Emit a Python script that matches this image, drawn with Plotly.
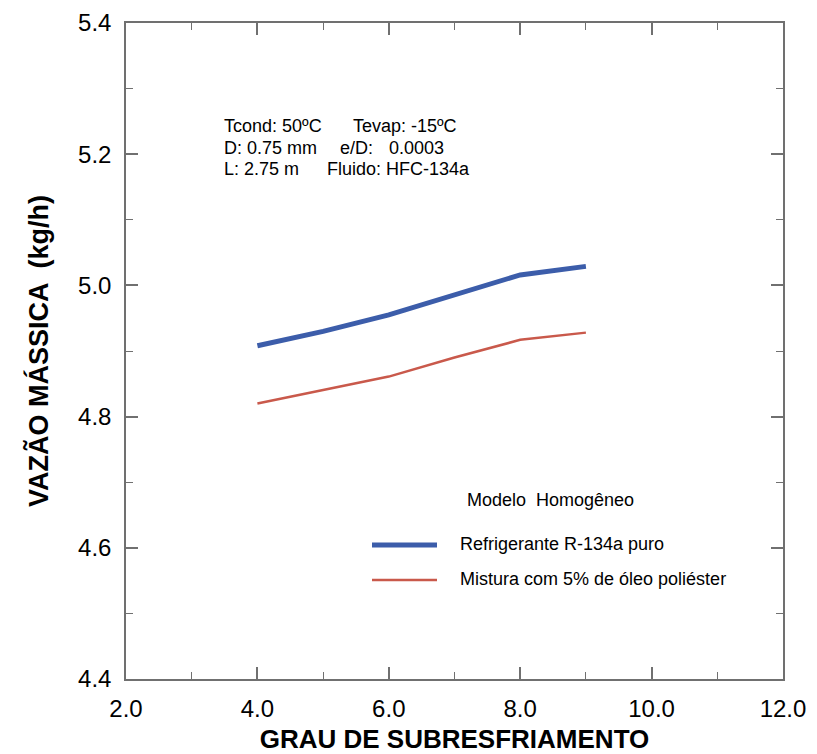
import plotly.graph_objects as go

# Data
subcooling = [4.0, 5.0, 6.0, 7.0, 8.0, 9.0]
flow_pure = [4.908, 4.930, 4.955, 4.986, 5.016, 5.029]
flow_mix = [4.820, 4.840, 4.861, 4.890, 4.917, 4.928]

name_pure = "Refrigerante R-134a puro"
name_mix = "Mistura com 5% de óleo poliéster"
legend_title = "Modelo  Homogêneo"
x_title = "GRAU DE SUBRESFRIAMENTO"
y_title = "VAZÃO MÁSSICA  (kg/h)"
x_ticks = [2.0, 4.0, 6.0, 8.0, 10.0, 12.0]
y_ticks = [4.4, 4.6, 4.8, 5.0, 5.2, 5.4]

W, H = 817, 754
L, R, T, B = 126, 34, 23, 75
PW, PH = W - L - R, H - T - B

def px(x):
    return (x - L) / PW

def py(y):
    return (H - B - y) / PH

FONT = "Liberation Sans, Arial, sans-serif"
AXC = "#707070"
BLUE = "#3C5DAA"
RED = "#C9594B"

fig = go.Figure()
fig.add_trace(go.Scatter(x=subcooling, y=flow_pure, mode="lines", name=name_pure,
                         line=dict(color=BLUE, width=5), showlegend=False))
fig.add_trace(go.Scatter(x=subcooling, y=flow_mix, mode="lines", name=name_mix,
                         line=dict(color=RED, width=2.5), showlegend=False))

axis_common = dict(
    showgrid=False, zeroline=False, showline=True, linecolor=AXC, linewidth=1.5,
    mirror="ticks", ticks="inside", ticklen=12, tickwidth=1.5, tickcolor=AXC,
    tickfont=dict(family=FONT, size=24, color="black"), automargin=False,
)

fig.update_xaxes(range=[2, 12], tickvals=x_ticks, ticktext=[f"{v:.1f}" for v in x_ticks],
                 minor=dict(dtick=1, ticks="inside", ticklen=7, tickwidth=1.2, tickcolor=AXC),
                 title=dict(text=f"<b>{x_title}</b>", font=dict(family=FONT, size=26, color="black"), standoff=10),
                 ticklabelstandoff=7,
                 **axis_common)
fig.update_yaxes(range=[4.4, 5.4], tickvals=y_ticks, ticktext=[f"{v:.1f}" for v in y_ticks],
                 minor=dict(dtick=0.1, ticks="inside", ticklen=7, tickwidth=1.2, tickcolor=AXC),
                 title=dict(text=f"<b>{y_title}</b>", font=dict(family=FONT, size=27, color="black"), standoff=22),
                 ticklabelstandoff=8,
                 **axis_common)

notes = [
    ("Tcond: 50ºC", 222, 126), ("Tevap: -15ºC", 351, 126),
    ("D: 0.75 mm", 222, 148), ("e/D:", 338, 148), ("0.0003", 387, 148),
    ("L: 2.75 m", 222, 169), ("Fluido: HFC-134a", 325, 169),
]
for txt, x, y in notes:
    fig.add_annotation(text=txt, x=px(x), y=py(y), xref="paper", yref="paper",
                       xanchor="left", yanchor="middle", showarrow=False,
                       font=dict(family=FONT, size=18, color="black"))

# Manual legend (sample lines + labels)
fig.add_annotation(text=legend_title, x=px(465), y=py(500), xref="paper", yref="paper",
                   xanchor="left", yanchor="middle", showarrow=False,
                   font=dict(family=FONT, size=18, color="black"))
for name, color, width, yy in [(name_pure, BLUE, 5, 545), (name_mix, RED, 2.5, 580)]:
    fig.add_shape(type="line", xref="paper", yref="paper", x0=px(372), x1=px(437),
                  y0=py(yy), y1=py(yy), line=dict(color=color, width=width))
    fig.add_annotation(text=name, x=px(458), y=py(yy - 1), xref="paper", yref="paper",
                       xanchor="left", yanchor="middle", showarrow=False,
                       font=dict(family=FONT, size=18, color="black"))

fig.update_layout(
    width=W, height=H, margin=dict(l=L, r=R, t=T, b=B),
    paper_bgcolor="white", plot_bgcolor="white",
    showlegend=False,
)

fig.write_html("out.html")
